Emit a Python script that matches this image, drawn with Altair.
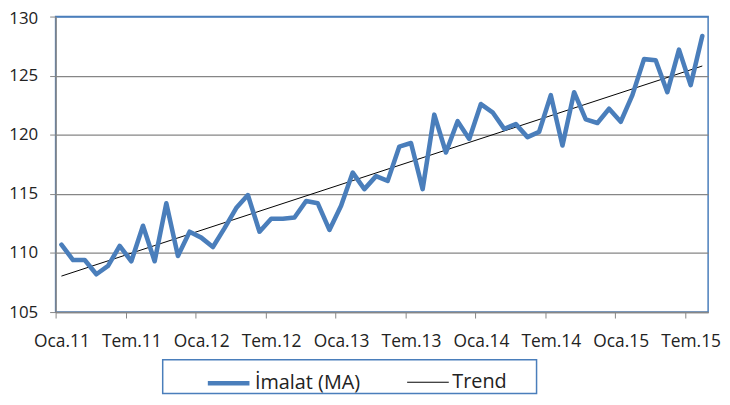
import json
import altair as alt
import pandas as pd

# Monthly index (Oca.11 = 0 ... Ağu.15 = 55)
months = list(range(56))
imalat = [110.7, 109.4, 109.4, 108.2, 108.9, 110.6, 109.3, 112.3, 109.3, 114.2,
          109.75, 111.8, 111.3, 110.5, 112.1, 113.8, 114.9, 111.8, 112.9, 112.9,
          113.0, 114.4, 114.2, 111.95, 114.0, 116.8, 115.4, 116.5, 116.1, 119.0,
          119.3, 115.4, 121.7, 118.5, 121.15, 119.65, 122.6, 121.9, 120.5, 120.9,
          119.8, 120.25, 123.35, 119.1, 123.6, 121.3, 121.0, 122.2, 121.1, 123.35,
          126.4, 126.3, 123.6, 127.2, 124.2, 128.35]
tick_labels = ["Oca.11", "Tem.11", "Oca.12", "Tem.12", "Oca.13",
               "Tem.13", "Oca.14", "Tem.14", "Oca.15", "Tem.15"]
y_ticks = [105, 110, 115, 120, 125, 130]
series_names = ["İmalat (MA)", "Trend"]

df = pd.DataFrame({"i": months, "v": imalat, "series": series_names[0]})

FONT = "Open Sans"
BLUE = "#4A7EBB"
GRAY = "#868686"
TXT = "#222222"

W, H = 658, 298

x_enc = alt.X(
    "i:Q",
    scale=alt.Scale(domain=[-0.5, 55.5], nice=False, zero=False),
    axis=alt.Axis(
        values=[-0.5 + 6 * k for k in range(len(tick_labels))],
        labelExpr=f"{json.dumps(tick_labels)}[round((datum.value + 0.5) / 6)]",
        labelOffset=W / 56 / 2,
        labelOverlap=False,
        labelBound=False,
        labelFlush=False,
        tickSize=6,
        tickColor=GRAY,
        domainColor=GRAY,
        domainWidth=1.5,
        labelPadding=15,
        labelFont=FONT,
        labelFontSize=17.5,
        labelColor=TXT,
        grid=False,
        title=None,
    ),
)
y_enc = alt.Y(
    "v:Q",
    scale=alt.Scale(domain=[105, 130], nice=False, zero=False),
    axis=alt.Axis(
        values=y_ticks,
        tickSize=6,
        tickColor=GRAY,
        domainColor=GRAY,
        domainWidth=1.5,
        gridColor={"condition": {"test": "datum.value === 130", "value": BLUE},
                   "value": GRAY},
        gridWidth=1.3,
        labelOffset={"condition": {"test": "datum.value === 130", "value": 2},
                     "value": 0},
        labelPadding=12,
        labelFont=FONT,
        labelFontSize=17,
        labelColor=TXT,
        title=None,
    ),
)

legend = alt.Legend(
    orient="none", legendX=151, legendY=346, direction="horizontal",
    title=None, symbolType="stroke", symbolSize=1764, labelFontSize=20,
    labelFont=FONT, labelColor=TXT, columnPadding=44, labelOffset=3, padding=0,
)
color = alt.Color("series:N", scale=alt.Scale(domain=series_names, range=[BLUE, "#000000"]),
                  legend=legend)
sw = alt.StrokeWidth("series:N", scale=alt.Scale(domain=series_names, range=[4.6, 1.0]),
                     legend=legend)

base = alt.Chart(df)
line = base.mark_line(strokeJoin="round", strokeCap="round").encode(
    x=x_enc, y=y_enc, color=color, strokeWidth=sw)
trend = base.transform_regression("i", "v", extent=[0, 55]).transform_calculate(
    series=f"'{series_names[1]}'").mark_line().encode(
    x=x_enc, y=y_enc, color=color, strokeWidth=sw)

box = alt.Chart(pd.DataFrame({"a": [0]})).mark_rect(
    fill="white", fillOpacity=0, stroke=BLUE, strokeWidth=1.5).encode(
    x=alt.value(108), x2=alt.value(485), y=alt.value(346), y2=alt.value(380))

chart = alt.layer(box, trend, line).properties(
    width=W, height=H,
    autosize=alt.AutoSizeParams(type="none"),
    padding={"left": 48, "top": 7, "right": 14, "bottom": 84},
).configure_view(stroke=BLUE, strokeWidth=1.5)

chart.save("out.html", embed_options={"renderer": "svg", "actions": False})
